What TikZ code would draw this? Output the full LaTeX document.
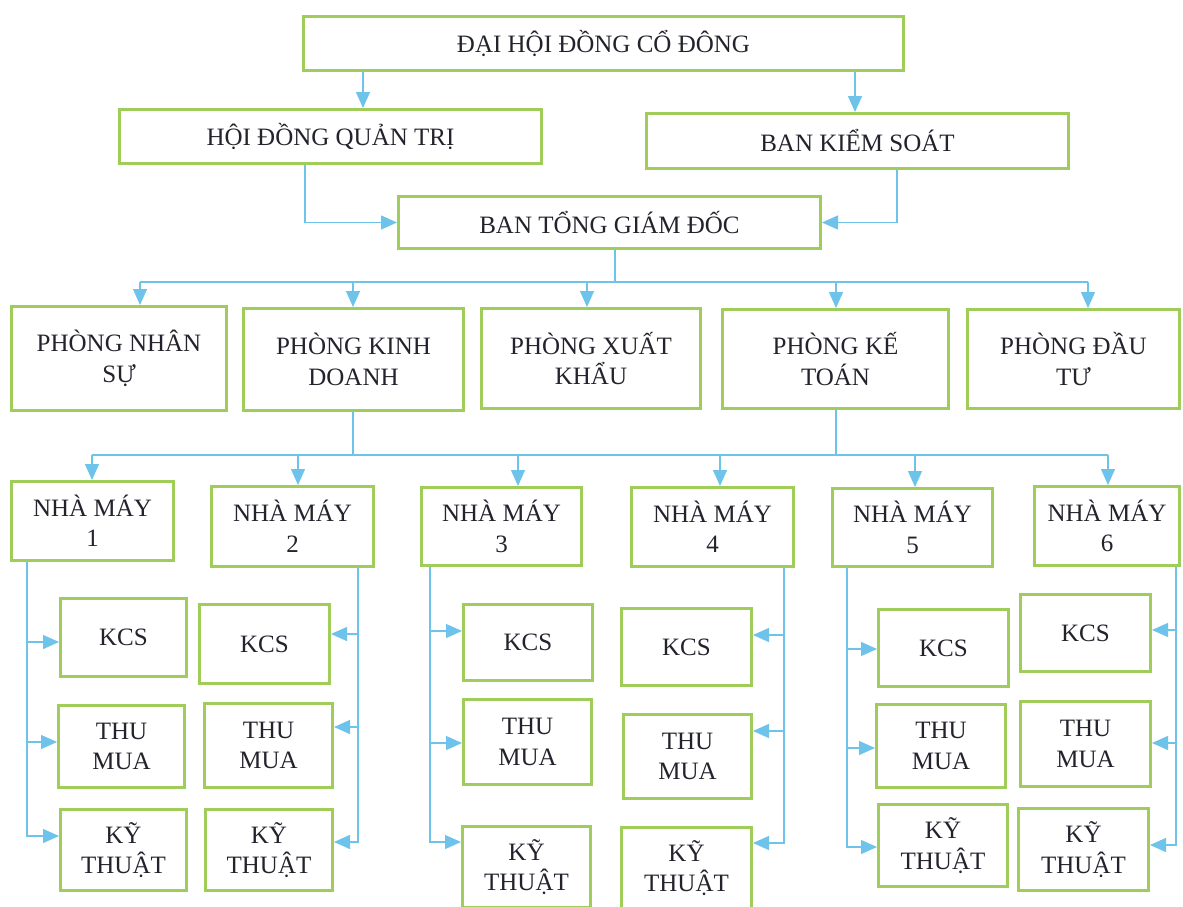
\documentclass[tikz,border=0pt]{standalone}
\usepackage{fontspec}
\setmainfont{Liberation Serif}
\usetikzlibrary{arrows.meta}
\definecolor{boxgreen}{RGB}{160,205,90}
\definecolor{linkblue}{RGB}{110,195,235}
\definecolor{txt}{RGB}{35,35,45}
\tikzset{
  box/.style={draw=boxgreen, line width=3pt, fill=white, align=center, text=txt,
    font=\fontsize{25}{30.5}\selectfont, inner sep=1pt},
  link/.style={draw=linkblue, line width=1.3pt},
  conn/.style={link, -{Triangle[length=16pt,width=14pt]}},
}
\newcommand\mybox[6]{\node[box,minimum width={#4-#2-3},minimum height={#5-#3-3}] (#1) at ({(#2+#4)/2},{(#3+#5)/2}) {#6};}
\begin{document}
\begin{tikzpicture}[x=1pt,y=-1pt]
\useasboundingbox[fill=white] (0,0) rectangle (1183,907);
% top levels
\mybox{dh}{302}{15}{905}{72}{ĐẠI HỘI ĐỒNG CỔ ĐÔNG}
\mybox{hdqt}{118}{108}{543}{165}{HỘI ĐỒNG QUẢN TRỊ}
\mybox{bks}{645}{112}{1070}{170}{BAN KIỂM SOÁT}
\mybox{btgd}{397}{195}{822}{250}{BAN TỔNG GIÁM ĐỐC}
% departments
\mybox{p1}{10}{305}{228}{412}{PHÒNG NHÂN\\SỰ}
\mybox{p2}{242}{307}{465}{412}{PHÒNG KINH\\DOANH}
\mybox{p3}{480}{307}{702}{410}{PHÒNG XUẤT\\KHẨU}
\mybox{p4}{721}{308}{950}{410}{PHÒNG KẾ\\TOÁN}
\mybox{p5}{966}{308}{1181}{410}{PHÒNG ĐẦU\\TƯ}
% factories
\mybox{nm1}{10}{480}{175}{562}{NHÀ MÁY\\1}
\mybox{nm2}{210}{485}{375}{568}{NHÀ MÁY\\2}
\mybox{nm3}{420}{486}{583}{567}{NHÀ MÁY\\3}
\mybox{nm4}{630}{486}{795}{568}{NHÀ MÁY\\4}
\mybox{nm5}{831}{487}{994}{568}{NHÀ MÁY\\5}
\mybox{nm6}{1033}{485}{1181}{567}{NHÀ MÁY\\6}
% sections
\mybox{k1}{59}{597}{188}{678}{KCS}
\mybox{m1}{57}{704}{186}{789}{THU\\MUA}
\mybox{t1}{59}{808}{188}{892}{KỸ\\THUẬT}
\mybox{k2}{198}{603}{331}{685}{KCS}
\mybox{m2}{203}{702}{334}{789}{THU\\MUA}
\mybox{t2}{204}{808}{334}{892}{KỸ\\THUẬT}
\mybox{k3}{462}{603}{594}{682}{KCS}
\mybox{m3}{462}{698}{593}{786}{THU\\MUA}
\mybox{t3}{461}{825}{592}{909}{KỸ\\THUẬT}
\mybox{k4}{620}{607}{753}{687}{KCS}
\mybox{m4}{622}{713}{753}{800}{THU\\MUA}
\mybox{t4}{620}{826}{753}{910}{KỸ\\THUẬT}
\mybox{k5}{877}{608}{1010}{688}{KCS}
\mybox{m5}{875}{703}{1007}{789}{THU\\MUA}
\mybox{t5}{877}{803}{1009}{888}{KỸ\\THUẬT}
\mybox{k6}{1019}{593}{1152}{673}{KCS}
\mybox{m6}{1019}{700}{1152}{788}{THU\\MUA}
\mybox{t6}{1017}{807}{1150}{892}{KỸ\\THUẬT}
% connectors: top
\draw[conn] (363,0 |- dh.south) -- (363,0 |- hdqt.north);
\draw[conn] (855,0 |- dh.south) -- (855,0 |- bks.north);
\draw[conn] (305,0 |- hdqt.south) |- (btgd.west);
\draw[conn] (897,0 |- bks.south) |- (btgd.east);
\draw[link] (615,0 |- btgd.south) -- (615,282);
\draw[link] (140,282) -- (1088,282);
\foreach \x/\n in {140/p1,353/p2,587/p3,836/p4,1088/p5}
  \draw[conn] (\x,282) -- (\x,0 |- \n.north);
% departments to factories
\draw[link] (353,0 |- p2.south) -- (353,455);
\draw[link] (836,0 |- p4.south) -- (836,455);
\draw[link] (92,455) -- (1108,455);
\foreach \x/\n in {92/nm1,298/nm2,518/nm3,720/nm4,915/nm5,1108/nm6}
  \draw[conn] (\x,455) -- (\x,0 |- \n.north);
% factory 1
\draw[conn] (27,0 |- nm1.south) |- (t1.west |- 0,836);
\draw[conn] (27,642) -- (k1.west |- 0,642);
\draw[conn] (27,742) -- (m1.west |- 0,742);
% factory 2
\draw[conn] (358,0 |- nm2.south) |- (t2.east |- 0,842);
\draw[conn] (358,634) -- (k2.east |- 0,634);
\draw[conn] (358,727) -- (m2.east |- 0,727);
% factory 3
\draw[conn] (430,0 |- nm3.south) |- (t3.west |- 0,842);
\draw[conn] (430,631) -- (k3.west |- 0,631);
\draw[conn] (430,743) -- (m3.west |- 0,743);
% factory 4
\draw[conn] (784,0 |- nm4.south) |- (t4.east |- 0,843);
\draw[conn] (784,635) -- (k4.east |- 0,635);
\draw[conn] (784,731) -- (m4.east |- 0,731);
% factory 5
\draw[conn] (847,0 |- nm5.south) |- (t5.west |- 0,847);
\draw[conn] (847,649) -- (k5.west |- 0,649);
\draw[conn] (847,748) -- (m5.west |- 0,748);
% factory 6
\draw[conn] (1176,0 |- nm6.south) |- (t6.east |- 0,845);
\draw[conn] (1176,630) -- (k6.east |- 0,630);
\draw[conn] (1176,743) -- (m6.east |- 0,743);
\end{tikzpicture}
\end{document}
